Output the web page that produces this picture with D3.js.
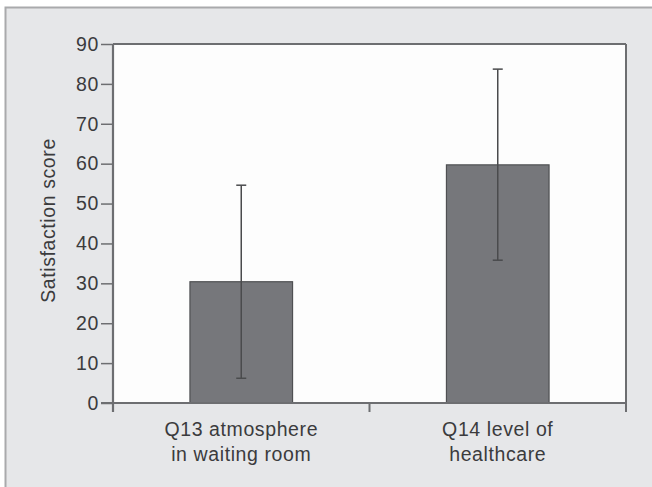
<!DOCTYPE html>
<html>
<head>
<meta charset="utf-8">
<script src="https://cdn.jsdelivr.net/npm/d3@7/dist/d3.min.js"></script>
<style>
  html, body { margin: 0; padding: 0; background: #ffffff; }
  svg { display: block; }
  text { font-family: "Liberation Sans", Arial, sans-serif; }
</style>
</head>
<body>
<script>
const categories = ["Q13 atmosphere\nin waiting room", "Q14 level of\nhealthcare"];
const means = [30.4, 59.7];
const errLow = [6.2, 35.8];
const errHigh = [54.6, 83.7];
const yTicks = [0, 10, 20, 30, 40, 50, 60, 70, 80, 90];
const yLabel = "Satisfaction score";

const W = 652, H = 487;
const margin = { left: 113, right: 26, top: 44, bottom: 84 };
const x0 = margin.left, x1 = W - margin.right;
const y0 = H - margin.bottom, y1 = margin.top;
const FS = 19.5, LS = 0.6;

const svg = d3.select("body").append("svg").attr("width", W).attr("height", H);

// panel background
svg.append("rect").attr("x", 0).attr("y", 0).attr("width", W).attr("height", H).attr("fill", "#ffffff");
svg.append("rect").attr("x", 5.5).attr("y", 7.5).attr("width", W + 10).attr("height", H + 10)
  .attr("fill", "#e6e7e9").attr("stroke", "#a9aaac").attr("stroke-width", 2);

const x = d3.scaleBand().domain(categories).range([x0, x1]).paddingInner(0).paddingOuter(0);
const y = d3.scaleLinear().domain([0, 90]).range([y0, y1]);

// plot area
svg.append("rect").attr("x", x0).attr("y", y1).attr("width", x1 - x0).attr("height", y0 - y1)
  .attr("fill", "#fdfdfd");

const axisColor = "#6d6e71";
const textColor = "#3b3b3d";

// bars
const bw = x.bandwidth() * 0.4;
svg.selectAll("rect.bar").data(categories).enter().append("rect")
  .attr("class", "bar")
  .attr("x", d => x(d) + x.bandwidth() / 2 - bw / 2)
  .attr("y", (d, i) => y(means[i]))
  .attr("width", bw)
  .attr("height", (d, i) => y(0) - y(means[i]))
  .attr("fill", "#76777b")
  .attr("stroke", "#4f5053")
  .attr("stroke-width", 1.2);

// error bars
const eb = svg.append("g").attr("stroke", "#4a4b4d").attr("stroke-width", 1.5);
categories.forEach((c, i) => {
  const cx = x(c) + x.bandwidth() / 2;
  eb.append("line").attr("x1", cx).attr("x2", cx).attr("y1", y(errLow[i])).attr("y2", y(errHigh[i]));
  eb.append("line").attr("x1", cx - 5).attr("x2", cx + 5).attr("y1", y(errLow[i])).attr("y2", y(errLow[i]));
  eb.append("line").attr("x1", cx - 5).attr("x2", cx + 5).attr("y1", y(errHigh[i])).attr("y2", y(errHigh[i]));
});

// frame top and right
svg.append("line").attr("x1", x0).attr("x2", x1).attr("y1", y1).attr("y2", y1)
  .attr("stroke", axisColor).attr("stroke-width", 2);
svg.append("line").attr("x1", x1).attr("x2", x1).attr("y1", y1).attr("y2", y0 + 9)
  .attr("stroke", axisColor).attr("stroke-width", 2);

// y axis
const yAxis = svg.append("g").attr("transform", `translate(${x0},0)`)
  .call(d3.axisLeft(y).tickValues(yTicks).tickSize(12).tickPadding(2));
yAxis.select(".domain").attr("stroke", axisColor).attr("stroke-width", 2.2)
  .attr("d", `M0,${y1}V${y0 + 9}`);
yAxis.selectAll(".tick line").attr("stroke", axisColor).attr("stroke-width", 1.5);
yAxis.selectAll(".tick text").attr("fill", textColor).attr("font-size", FS)
  .attr("letter-spacing", LS)
  .attr("font-family", "Liberation Sans, Arial, sans-serif");

// x axis
svg.append("line").attr("x1", x0 - 12).attr("x2", x1).attr("y1", y0).attr("y2", y0)
  .attr("stroke", axisColor).attr("stroke-width", 2);
const xTickPos = [x0].concat(categories.map(c => x(c) + x.bandwidth()));
svg.selectAll("line.xtick").data(xTickPos).enter().append("line")
  .attr("class", "xtick")
  .attr("x1", d => d).attr("x2", d => d).attr("y1", y0).attr("y2", y0 + 9)
  .attr("stroke", axisColor).attr("stroke-width", 2);

// x labels
categories.forEach(c => {
  const cx = x(c) + x.bandwidth() / 2;
  const t = svg.append("text").attr("x", cx).attr("y", 436)
    .attr("text-anchor", "middle").attr("font-size", FS).attr("letter-spacing", LS)
    .attr("fill", textColor);
  c.split("\n").forEach((line, j) => {
    t.append("tspan").attr("x", cx).attr("dy", j === 0 ? 0 : 25).text(line);
  });
});

// y label
svg.append("text")
  .attr("transform", `translate(55,${(y0 + y1) / 2 - 3}) rotate(-90)`)
  .attr("text-anchor", "middle").attr("font-size", FS).attr("letter-spacing", LS)
  .attr("fill", textColor)
  .text(yLabel);
</script>
</body>
</html>
